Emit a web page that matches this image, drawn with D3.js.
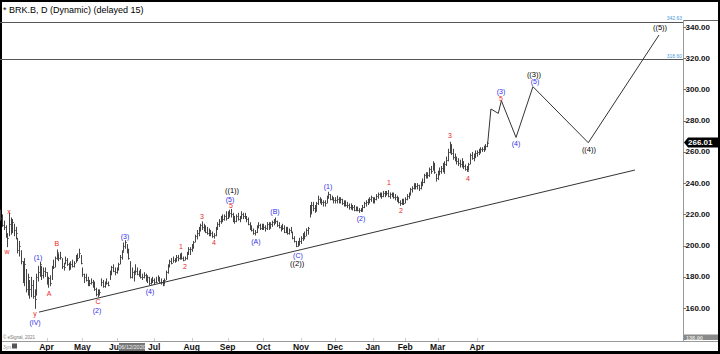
<!DOCTYPE html>
<html>
<head>
<meta charset="utf-8">
<script src="https://cdn.jsdelivr.net/npm/d3@7"></script>
<style>
  body { margin: 0; background: #000; }
  svg { display: block; font-family: "Liberation Sans", Arial, sans-serif; }
</style>
</head>
<body>
<svg id="chart" width="720" height="354"></svg>
<script>
// ========================
// Data (daily bars, BRK.B, from 2020-02-24)
// ========================
const highs = [
  223,220,216,213,208,221,218,217,214,212,205,203,197,190,192,185,182,178,180,178,172,182,187,189.5,187,186,186,
  183,180,181,187,191,193,197.5,195,196,192,189,193,192,189,190,191,190,194,195,198,194,
  186,182,182,180,178,179,178,177,173,172,172,179,178,177,179,177,184,187,188,186,
  186,189,194,197,202,203.5,201,198,190,186,184,188,186,184,185,182,183,182,181,180,179,180,
  179,180,181,180,179,178,179,184,188,191,192,193,192,194,194,195,195.5,193,193,196,199,199,
  201,203,207,210,212,214,215.5,214,213,212,211,210,209,208,212,215,217,219,220,220,222,
  222,223,223.5,221,219,220,221,219,222,221,221,219,218,215,213,211,210,213,215,214,214,
  214,213,215,215,215,216,217,218,216,215,213,214,213,212,212,211,212,209,206,203,203,205,
  206,208,209,211,212,226,228,228,226,228,232,231,230,229,229,232,234.5,233,232,231,
  231,232,231,231,230,229,229,228,227,227,226,226,225,225,224,224,226,228,229,230,231,232,
  231,231,233,234,234,234,235,235,235,235.6,234,234,234,233,232,231,229,230,230,
  231,233,234,237,238,240,240,240,239,241,243,246,247,247,250,251,254,253,246,
  248,250,251,253,254,257,262,266.5,265,262,259,257,256,255,256,254,252,251,253,259,260,259,261,
  261,262,263,263,264,265,266.5
];
const lows = [
  216,212,210,205,199,206,207,208,206,204,195,193,188,176,174,170,168,166,167,166,159.5,168,177,180,178,179,180,
  175,173,174,178,185,186,191,190,191,185,184,188,187,184,185,186,186,189,190,192,188,
  180,176,177,174,174,175,173,171,167.5,167,168,174,173,173,175,174,178,181,183,181,
  182,184,188,191,196,198,195,191,179,179,177,182,181,180,179,178,179,177,176,174.5,175,176,
  175,176,177,176,175,174,175,178,182,186,188,189,189,190,190,191,191,190,190.5,191,194,194,
  196,198,202,204,206,209,210,209,208,207,206,206,205,204.5,206,210,212,214,215,216,216,
  217,218,218,215,214,215,216,215,217,217,217,215,213,210,209,207,206.5,208,211,210,210,
  210,209,210,210,211,212,213,214,212,211,209,210,208,208,207,207,208,204,202,199,199.2,200,
  201,203,204,206,207,218,220,222,221,222,226,227,226,225,225,227,230,229,229,227,
  227,227,227,227,226,225,225,224,223,223,222.5,222,222,222,221,221.5,222,224,225,226,227,228,
  227,227,229,230,231,230,231,231,232,231,230,231,230,229,228,227,225.5,226,226,
  227,229,230,232,234,236,236,236,235,236,238,240,243,243,244,246,248,246,241,
  242,245,246,247,246,251,254,259,258,255,254,252,251,250,250,249,248,247.3,248,252,255,254,256,
  257,258,259,260,260,261,263
];
const closes = [
  218,213,212,206,205,214,209,215,210,208,197,200,190,178,188,172,180,172,175,168,166,180,183,188,181,184,183,
  177,179,176,186,186,192,196,192,193,187,186,191,188,185,188,187,189,191,192,195,189,
  182,180,178,175,176,177,175,172,169,171,170,177,174,176,176,175,182,186,184,183,
  185,188,193,196,200,202,197,192,180,183,182,184,182,181,180,180,181,178,180,176,178,178,
  177,177,180,177,177,175,178,183,187,190,189,191,190,193,192,194,192,191,192,195,198,198,
  200,202,206,208,211,213,212,210,209,208,207,208,206,207,211,214,216,218,217,219,218,
  220,221,220,218,216,219,217,218,220,219,218,217,214,211,210,208,209,212,213,211,213,
  212,211,214,211,214,215,215,216,213,212,212,211,209,211,208,210,209,205,203,200,201,203,
  205,207,206,210,211,222,226,224,222,227,230,229,228,228,227,231,233,230,230,229,
  229,230,228,230,227,228,226,226,225,224,225,223,224,223,223,222,225,227,228,228,230,231,
  228,230,232,233,233,232,234,233,234,232,233,232,231,231,229,228,227,229,227,
  230,232,233,236,237,239,238,239,237,240,241,245,246,245,249,248,253,247,243,
  247,248,250,249,252,255,260,262,259,257,256,254,253,252,254,251,249,248,252,258,256,258,259,
  260,261,262,262,263,264,266.01
];

const holidays = ["2020-04-10","2020-05-25","2020-07-03","2020-09-07","2020-11-26",
                  "2020-12-25","2021-01-01","2021-01-18","2021-02-15","2021-04-02"];
const monthTicks = ["2020-04","2020-05","2020-06","2020-07","2020-08","2020-09","2020-10",
                    "2020-11","2020-12","2021-01","2021-02","2021-03","2021-04"];
const priceTicks = [160,180,200,220,240,260,280,300,320,340];

// trend line and projected path, [bar index, price]
const trendLine = [[22.6, 157.4], [371.5, 248.4]];
const projection = [[285.3,265.5],[287.2,287.5],[291.5,284.7],[293.3,292.8],
                    [301.9,269.3],[311.8,301.8],[344.2,265.9],[385.6,334.9]];
const levels = [342.63, 318.60];
const lastPrice = 266.01;

// wave labels [text, bar index, price]
const minorLabels = [
  ["w",3.9,196.5],["x",5.0,222.1],["y",20.3,156.8],["A",28.5,169.6],["B",33.1,201.6],["C",57.1,164.5],
  ["1",105.7,199.7],["2",108.1,186.9],["3",118.0,218.9],["4",125.1,202.3],["5",135.0,226.0],
  ["1",227.5,240.1],["2",234.5,222.8],["3",263.2,270.8],["4",273.8,243.3],["5",293.1,294.5]
];
const intermediateLabels = [
  ["(IV)",20.3,151.0],["(1)",22.0,192.7],["(2)",56.6,158.7],["(3)",73.0,206.1],["(4)",87.6,170.9],
  ["(5)",134.4,229.8],["(A)",149.6,202.9],["(B)",160.8,222.1],["(C)",174.2,193.9],
  ["(1)",191.8,238.1],["(2)",211.1,217.6],["(3)",293.1,298.4],["(4)",301.9,265.7],["(5)",313.0,304.8]
];
const primaryLabels = [
  ["((1))",135.6,235.6],["((2))",173.7,188.8],["((3))",312.4,309.9],["((4))",344.6,261.8],["((5))",386.2,339.4]
];

// ========================
// Setup
// ========================
const svg = d3.select("#chart");
const plotRight = 683, plotTop = 20, plotBottom = 341;

const x = d3.scaleLinear().domain([-0.23, 399.65]).range([0, plotRight]);
const y = d3.scaleLinear().domain([138.9, 344.5]).range([plotBottom, plotTop]);

const fmtDay = d3.utcFormat("%Y-%m-%d");
const fmtMonth = d3.utcFormat("%Y-%m");
const dates = [];
for (let d = new Date(Date.UTC(2020, 1, 24)); dates.length < highs.length; d = d3.utcDay.offset(d, 1)) {
  const wd = d.getUTCDay();
  if (wd === 0 || wd === 6 || holidays.includes(fmtDay(d))) continue;
  dates.push(d);
}

// frame
svg.append("rect").attr("width", 720).attr("height", 354).attr("fill", "#000");
svg.append("rect").attr("x", 2).attr("y", 2).attr("width", 716).attr("height", 349).attr("fill", "#fff");

svg.append("text")
  .attr("x", 3).attr("y", 13)
  .style("font-size", "9px")
  .attr("fill", "#000")
  .text("* BRK.B, D (Dynamic) (delayed 15)");

// top border only over the price scale; the 342.63 level closes the plot
svg.append("line")
  .attr("x1", plotRight).attr("x2", 718).attr("y1", 20.5).attr("y2", 20.5)
  .attr("stroke", "#666");

svg.append("line")
  .attr("x1", plotRight + 0.5).attr("x2", plotRight + 0.5)
  .attr("y1", plotTop).attr("y2", plotBottom)
  .attr("stroke", "#999");

svg.append("line")
  .attr("x1", 2).attr("x2", 718).attr("y1", plotBottom + 0.5).attr("y2", plotBottom + 0.5)
  .attr("stroke", "#999");

svg.append("clipPath").attr("id", "plotClip")
  .append("rect").attr("x", 0).attr("y", plotTop).attr("width", plotRight).attr("height", plotBottom - plotTop);

const plot = svg.append("g").attr("clip-path", "url(#plotClip)");

// ========================
// Levels
// ========================
levels.forEach(v => {
  plot.append("line")
    .attr("x1", 0).attr("x2", plotRight)
    .attr("y1", Math.round(y(v)) - 0.5).attr("y2", Math.round(y(v)) - 0.5)
    .attr("stroke", "#555");
  svg.append("text")
    .attr("x", plotRight - 1).attr("y", y(v) - 2.5)
    .attr("text-anchor", "end")
    .style("font-size", "5px")
    .attr("fill", "#4a9ae0")
    .text(v.toFixed(2));
});

// ========================
// Bars
// ========================
const bars = plot.append("g").attr("stroke", "#444").attr("stroke-width", 1);
highs.forEach((h, i) => {
  const bx = Math.round(x(i)) + 0.5;
  bars.append("line")
    .attr("x1", bx).attr("x2", bx)
    .attr("y1", y(h)).attr("y2", y(lows[i]));
  bars.append("line")
    .attr("x1", bx).attr("x2", bx + 1.2)
    .attr("y1", Math.round(y(closes[i])) + 0.5).attr("y2", Math.round(y(closes[i])) + 0.5);
});

const lineGen = d3.line().x(d => x(d[0])).y(d => y(d[1]));

plot.append("path")
  .attr("d", lineGen(trendLine))
  .attr("fill", "none").attr("stroke", "#333").attr("stroke-width", 1);

plot.append("path")
  .attr("d", lineGen(projection))
  .attr("fill", "none").attr("stroke", "#333").attr("stroke-width", 1);

// ========================
// Wave labels
// ========================
function drawLabels(list, color, size) {
  svg.append("g").selectAll("text")
    .data(list).join("text")
    .attr("x", d => x(d[1])).attr("y", d => y(d[2]))
    .attr("text-anchor", "middle")
    .attr("dominant-baseline", "central")
    .style("font-size", size)
    .attr("fill", color)
    .text(d => d[0]);
}
drawLabels(minorLabels, "#e8281e", "7px");
drawLabels(intermediateLabels, "#2f2fe8", "7px");
drawLabels(primaryLabels, "#000", "7.5px");

// ========================
// Price axis
// ========================
const yAxis = svg.append("g");
priceTicks.forEach(v => {
  yAxis.append("line")
    .attr("x1", plotRight).attr("x2", plotRight + 3)
    .attr("y1", Math.round(y(v)) + 0.5).attr("y2", Math.round(y(v)) + 0.5)
    .attr("stroke", "#777");
  yAxis.append("text")
    .attr("x", plotRight + 2.5).attr("y", y(v))
    .attr("dominant-baseline", "central")
    .style("font-size", "8px").style("font-weight", "bold")
    .attr("fill", "#111")
    .text(v.toFixed(2));
});

// last price marker
const ly = y(lastPrice);
svg.append("path")
  .attr("d", `M${plotRight + 1},${ly} L${plotRight + 5},${ly - 5} L718,${ly - 5} L718,${ly + 5} L${plotRight + 5},${ly + 5} Z`)
  .attr("fill", "#000");
svg.append("text")
  .attr("x", plotRight + 5).attr("y", ly)
  .attr("dominant-baseline", "central")
  .style("font-size", "8px").style("font-weight", "bold")
  .attr("fill", "#fff")
  .text(lastPrice.toFixed(2));

// low marker at bottom of axis
svg.append("rect")
  .attr("x", plotRight + 1).attr("y", 334.5).attr("width", 34).attr("height", 5.5)
  .attr("fill", "#8a8a8a");
svg.append("text")
  .attr("x", plotRight + 3).attr("y", 337.5)
  .attr("dominant-baseline", "central")
  .style("font-size", "5.5px").style("font-weight", "bold")
  .attr("fill", "#e0e0e0")
  .text(y.domain()[0].toFixed(2));

// ========================
// Time axis
// ========================
const xAxis = svg.append("g");
monthTicks.forEach(m => {
  const i = dates.findIndex(d => fmtMonth(d) === m);
  const tx = x(i);
  xAxis.append("line")
    .attr("x1", Math.round(tx) + 0.5).attr("x2", Math.round(tx) + 0.5)
    .attr("y1", plotBottom - 3).attr("y2", plotBottom)
    .attr("stroke", "#ccc");
  xAxis.append("text")
    .attr("x", tx).attr("y", 350)
    .attr("text-anchor", "middle")
    .style("font-size", "8.5px").style("font-weight", "bold")
    .attr("fill", "#111")
    .text(d3.utcFormat("%b")(dates[i]));
});

// cursor date box (covers the end of the "Jun" label, as in the terminal)
svg.append("rect")
  .attr("x", 119).attr("y", 343).attr("width", 26).attr("height", 8)
  .attr("fill", "#777");
svg.append("text")
  .attr("x", 132).attr("y", 347.2)
  .attr("text-anchor", "middle").attr("dominant-baseline", "central")
  .style("font-size", "5.5px")
  .attr("fill", "#eee")
  .text("06/12/2020");

// footer bits
svg.append("text")
  .attr("x", 3).attr("y", 339)
  .style("font-size", "4.5px")
  .attr("fill", "#777")
  .text("© eSignal, 2021");
svg.append("text")
  .attr("x", 3).attr("y", 349)
  .style("font-size", "5px")
  .attr("fill", "#999")
  .text("3yn");
svg.append("rect")
  .attr("x", 12).attr("y", 343.5).attr("width", 5).attr("height", 5)
  .attr("fill", "#555");
</script>
</body>
</html>
